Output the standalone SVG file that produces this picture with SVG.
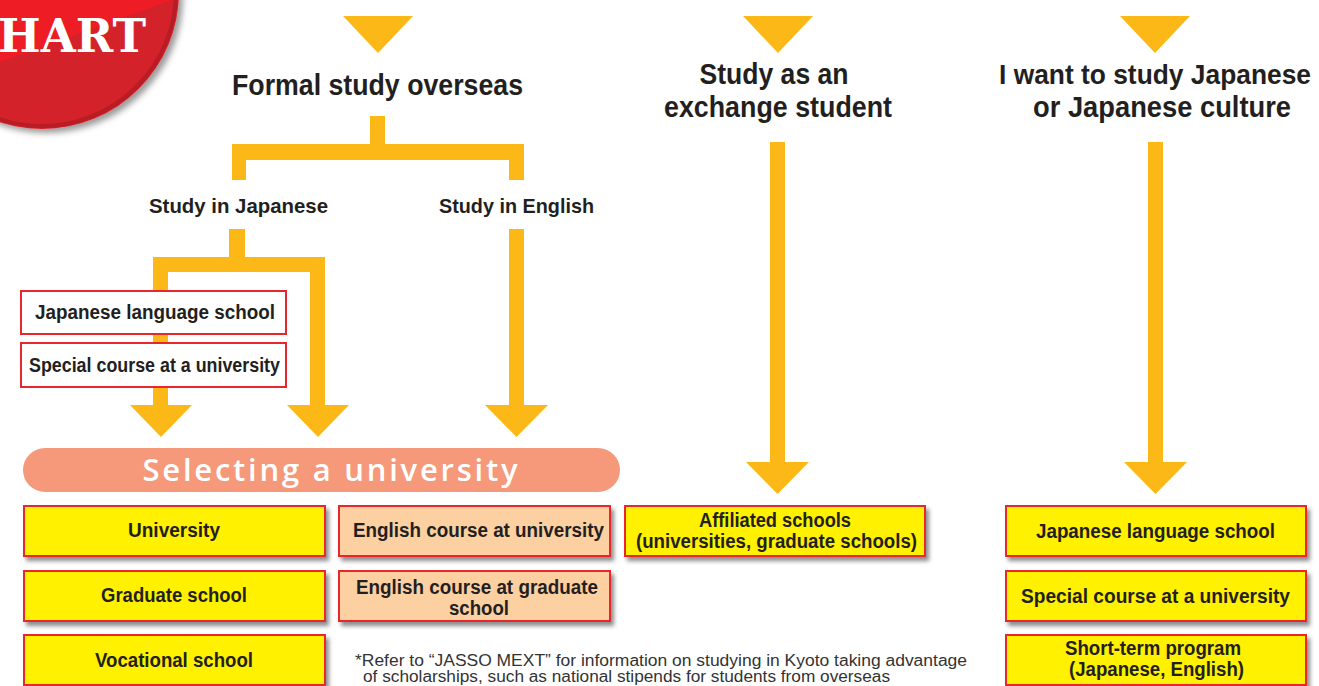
<svg xmlns="http://www.w3.org/2000/svg" width="1319" height="686" viewBox="0 0 1319 686">
<defs>
<filter id="sh" x="-10%" y="-20%" width="130%" height="160%">
<feDropShadow dx="3" dy="4" stdDeviation="2" flood-color="#000" flood-opacity="0.45"/>
</filter>
<filter id="bsh" x="-20%" y="-20%" width="150%" height="150%">
<feDropShadow dx="4" dy="4" stdDeviation="3" flood-color="#000" flood-opacity="0.4"/>
</filter>
<clipPath id="badgeClip"><circle cx="42" cy="-8" r="137"/></clipPath>
<style>
.arrow{fill:#FBB817}
.box{fill:#FFF100;stroke:#E8262D;stroke-width:2}
.peach{fill:#FDD0A2;stroke:#E8262D;stroke-width:2}
.wbox{fill:#fff;stroke:#E8262D;stroke-width:2}
.lbl{font-family:"Liberation Sans",Arial,sans-serif;font-weight:bold;fill:#231F20;text-anchor:middle}
.h1{font-size:30px}
.h2{font-size:21px}
.b{font-size:20px}
.note{font-family:"Liberation Sans",Arial,sans-serif;font-size:16px;fill:#333}
</style>
</defs>
<rect width="1319" height="686" fill="#fff"/>

<g id="badge">
<circle cx="42" cy="-8" r="137" fill="#D42029" filter="url(#bsh)"/>
<circle cx="42" cy="-8" r="134" fill="none" stroke="#B81C24" stroke-width="4"/>
<polygon points="-100,-100 200,-100 200,-10 0,62 -100,62" fill="#EE1C25" clip-path="url(#badgeClip)"/>
<text x="72" y="52" font-family="DejaVu Serif,Liberation Serif,serif" font-weight="bold" font-size="46" fill="#fff" text-anchor="middle" textLength="148" lengthAdjust="spacingAndGlyphs">HART</text>
</g>

<g id="connectors">
<polygon class="arrow" points="343,16 413,16 378,53"/>
<polygon class="arrow" points="743,16 813,16 778,53"/>
<polygon class="arrow" points="1120,16 1190,16 1155,53"/>
<path class="arrow" d="M370,116 H385 V144 H524 V180 H509 V160 H246 V180 H232 V144 H370 Z"/>
<path class="arrow" d="M229,229 H245 V257 H325 V405 H349 L318,437 L287,405 H310 V272 H168 V405 H192 L161,437 L130,405 H153 V257 H229 Z"/>
<path class="arrow" d="M509,229 H524 V405 H548 L516.5,437 L485,405 H509 Z"/>
<path class="arrow" d="M770,142 H785 V462 H809 L777.5,494 L746,462 H770 Z"/>
<path class="arrow" d="M1148,142 H1163 V462 H1187 L1155.5,494 L1124,462 H1148 Z"/>
</g>

<g id="formal-study">
<text class="lbl h1" x="377.5" y="95" textLength="291" lengthAdjust="spacingAndGlyphs">Formal study overseas</text>
</g>
<g id="exchange">
<text class="lbl h1" x="774" y="84" textLength="149" lengthAdjust="spacingAndGlyphs">Study as an</text>
<text class="lbl h1" x="778" y="117" textLength="228" lengthAdjust="spacingAndGlyphs">exchange student</text>
</g>
<g id="japanese-culture">
<text class="lbl" font-size="27.5" x="1155" y="84" textLength="312" lengthAdjust="spacingAndGlyphs">I want to study Japanese</text>
<text class="lbl h1" x="1162" y="117" textLength="258" lengthAdjust="spacingAndGlyphs">or Japanese culture</text>
</g>
<g id="study-japanese">
<text class="lbl h2" x="238.5" y="213" textLength="179" lengthAdjust="spacingAndGlyphs">Study in Japanese</text>
</g>
<g id="study-english">
<text class="lbl h2" x="516.5" y="213" textLength="155" lengthAdjust="spacingAndGlyphs">Study in English</text>
</g>

<g id="left-jls">
<rect class="wbox" x="21" y="291" width="265" height="43"/>
<text class="lbl b" x="155" y="319" textLength="240" lengthAdjust="spacingAndGlyphs">Japanese language school</text>
</g>
<g id="left-special">
<rect class="wbox" x="21" y="343" width="265" height="44"/>
<text class="lbl b" x="154.5" y="372" textLength="251" lengthAdjust="spacingAndGlyphs">Special course at a university</text>
</g>

<g id="selecting">
<rect x="23" y="448" width="597" height="44" rx="22" fill="#F5997A"/>
<text x="330" y="481" font-family="Open Sans,Liberation Sans,sans-serif" font-weight="600" font-size="31" fill="#fff" text-anchor="middle" textLength="375" lengthAdjust="spacing">Selecting a university</text>
</g>

<g id="university">
<rect class="box" x="24" y="506" width="301" height="50" filter="url(#sh)"/>
<text class="lbl b" x="174" y="537" textLength="92" lengthAdjust="spacingAndGlyphs">University</text>
</g>
<g id="graduate">
<rect class="box" x="24" y="571" width="301" height="50" filter="url(#sh)"/>
<text class="lbl b" x="174" y="602" textLength="146" lengthAdjust="spacingAndGlyphs">Graduate school</text>
</g>
<g id="vocational">
<rect class="box" x="24" y="635" width="301" height="50" filter="url(#sh)"/>
<text class="lbl b" x="174" y="667" textLength="158" lengthAdjust="spacingAndGlyphs">Vocational school</text>
</g>
<g id="eng-univ">
<rect class="peach" x="339" y="506" width="271" height="50" filter="url(#sh)"/>
<text class="lbl b" x="478.5" y="537" textLength="251" lengthAdjust="spacingAndGlyphs">English course at university</text>
</g>
<g id="eng-grad">
<rect class="peach" x="339" y="571" width="271" height="50" filter="url(#sh)"/>
<text class="lbl b" x="477" y="594" textLength="242" lengthAdjust="spacingAndGlyphs">English course at graduate</text>
<text class="lbl b" x="479" y="615" textLength="60" lengthAdjust="spacingAndGlyphs">school</text>
</g>
<g id="affiliated">
<rect class="box" x="625" y="506" width="300" height="50" filter="url(#sh)"/>
<text class="lbl b" x="775" y="527" textLength="152" lengthAdjust="spacingAndGlyphs">Affiliated schools</text>
<text class="lbl b" x="776.5" y="548" textLength="281" lengthAdjust="spacingAndGlyphs">(universities, graduate schools)</text>
</g>
<g id="right-jls">
<rect class="box" x="1006" y="506" width="300" height="50" filter="url(#sh)"/>
<text class="lbl b" x="1155.5" y="538" textLength="239" lengthAdjust="spacingAndGlyphs">Japanese language school</text>
</g>
<g id="right-special">
<rect class="box" x="1006" y="571" width="300" height="50" filter="url(#sh)"/>
<text class="lbl b" x="1155.5" y="603" textLength="269" lengthAdjust="spacingAndGlyphs">Special course at a university</text>
</g>
<g id="short-term">
<rect class="box" x="1006" y="635" width="300" height="50" filter="url(#sh)"/>
<text class="lbl b" x="1153" y="655" textLength="176" lengthAdjust="spacingAndGlyphs">Short-term program</text>
<text class="lbl b" x="1156.5" y="676" textLength="175" lengthAdjust="spacingAndGlyphs">(Japanese, English)</text>
</g>

<g id="note">
<text class="note" x="355" y="666" textLength="612" lengthAdjust="spacingAndGlyphs">*Refer to “JASSO MEXT” for information on studying in Kyoto taking advantage</text>
<text class="note" x="363" y="682" textLength="527" lengthAdjust="spacingAndGlyphs">of scholarships, such as national stipends for students from overseas</text>
</g>
</svg>
